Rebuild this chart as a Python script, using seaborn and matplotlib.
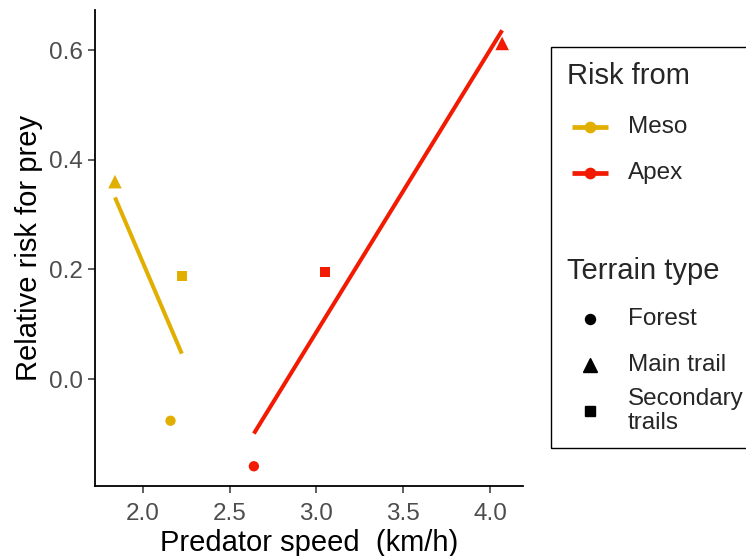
import numpy as np
import pandas as pd
import matplotlib
matplotlib.use("Agg")
import matplotlib.pyplot as plt
from matplotlib.lines import Line2D
from matplotlib.patches import Rectangle
import seaborn as sns

# Relative risk for prey by predator group and terrain type
predator = ["Meso", "Meso", "Meso", "Apex", "Apex", "Apex"]
terrain = ["Forest", "Main trail", "Secondary trails",
           "Forest", "Main trail", "Secondary trails"]
speed = [2.16, 1.84, 2.225, 2.64, 4.07, 3.05]
risk = [-0.076, 0.36, 0.188, -0.159, 0.612, 0.195]

x_ticks = [2.0, 2.5, 3.0, 3.5, 4.0]
y_ticks = [0.0, 0.2, 0.4, 0.6]

predator_levels = ["Meso", "Apex"]
terrain_levels = ["Forest", "Main trail", "Secondary trails"]
terrain_labels = ["Forest", "Main trail", "Secondary\ntrails"]

df = pd.DataFrame({"predator": predator, "terrain": terrain,
                   "speed": speed, "risk": risk})

palette = {"Meso": "#E1AF00", "Apex": "#F21A00"}
markers = {"Forest": "o", "Main trail": "^", "Secondary trails": "s"}
msizes = {"Forest": 55, "Main trail": 95, "Secondary trails": 58}
key_ms = {"Forest": 7.2, "Main trail": 9.4, "Secondary trails": 7.4}

sns.set_theme(style="white")
plt.rcParams["font.family"] = ["Liberation Sans", "DejaVu Sans"]

W, H = 746, 556
fig = plt.figure(figsize=(W / 100, H / 100), dpi=100)
ax = fig.add_axes([95 / W, 1 - 486 / H, (523 - 95) / W, (486 - 10) / H])

for t in terrain_levels:
    sub = df[df["terrain"] == t]
    sns.scatterplot(data=sub, x="speed", y="risk", hue="predator",
                    palette=palette, marker=markers[t], s=msizes[t],
                    linewidth=0, legend=False, ax=ax, zorder=3)

for p in predator_levels:
    sub = df[df["predator"] == p]
    sns.regplot(data=sub, x="speed", y="risk", ci=None, scatter=False,
                truncate=True, color=palette[p], ax=ax,
                line_kws={"lw": 2.9, "solid_capstyle": "butt", "zorder": 4})

ax.set_xlim(1.725, 4.19)
ax.set_ylim(-0.195, 0.673)
ax.set_xticks(x_ticks)
ax.set_yticks(y_ticks)
ax.set_xticklabels([f"{v:.1f}" for v in x_ticks])
ax.set_yticklabels([f"{v:.1f}" for v in y_ticks])
ax.tick_params(axis="both", which="major", length=5, width=1.1,
               color="#333333", labelcolor="#4D4D4D", labelsize=17.5,
               bottom=True, left=True)
ax.tick_params(axis="x", pad=7)
ax.tick_params(axis="y", pad=4)
for side in ["top", "right"]:
    ax.spines[side].set_visible(False)
for side in ["left", "bottom"]:
    ax.spines[side].set_color("black")
    ax.spines[side].set_linewidth(1.3)
ax.set_xlabel("Predator speed  (km/h)", fontsize=21, color="black", labelpad=3)
ax.set_ylabel("Relative risk for prey", fontsize=21, color="black", labelpad=4)


def fx(px):
    return px / W


def fy(py):
    return 1 - py / H


# Legend frame enclosing both keys
fig.patches.append(Rectangle((fx(551), fy(448)), fx(200), (448 - 47) / H,
                             transform=fig.transFigure, fill=False,
                             edgecolor="black", linewidth=1.0))

key_x, text_x, title_x = 590, 628, 567
fig.text(fx(title_x), fy(76), "Risk from", fontsize=21, va="center", ha="left")
for p, yy in zip(predator_levels, [127, 173]):
    fig.add_artist(Line2D([fx(572), fx(608)], [fy(yy), fy(yy)],
                          transform=fig.transFigure, color=palette[p], lw=3.4,
                          solid_capstyle="butt"))
    fig.add_artist(Line2D([fx(key_x)], [fy(yy)], transform=fig.transFigure,
                          color=palette[p], marker="o", markersize=7.4, lw=0))
    fig.text(fx(text_x), fy(yy), p, fontsize=17.5, va="center", ha="left")

fig.text(fx(title_x), fy(271), "Terrain type", fontsize=21, va="center", ha="left")
for t, lab, yy in zip(terrain_levels, terrain_labels, [319, 365, 411]):
    fig.add_artist(Line2D([fx(key_x)], [fy(yy)], transform=fig.transFigure,
                          color="black", marker=markers[t], markersize=key_ms[t], lw=0))
    fig.text(fx(text_x), fy(yy), lab, fontsize=17.5, va="center", ha="left",
             linespacing=1.08)

fig.savefig("out.png", dpi=100)
